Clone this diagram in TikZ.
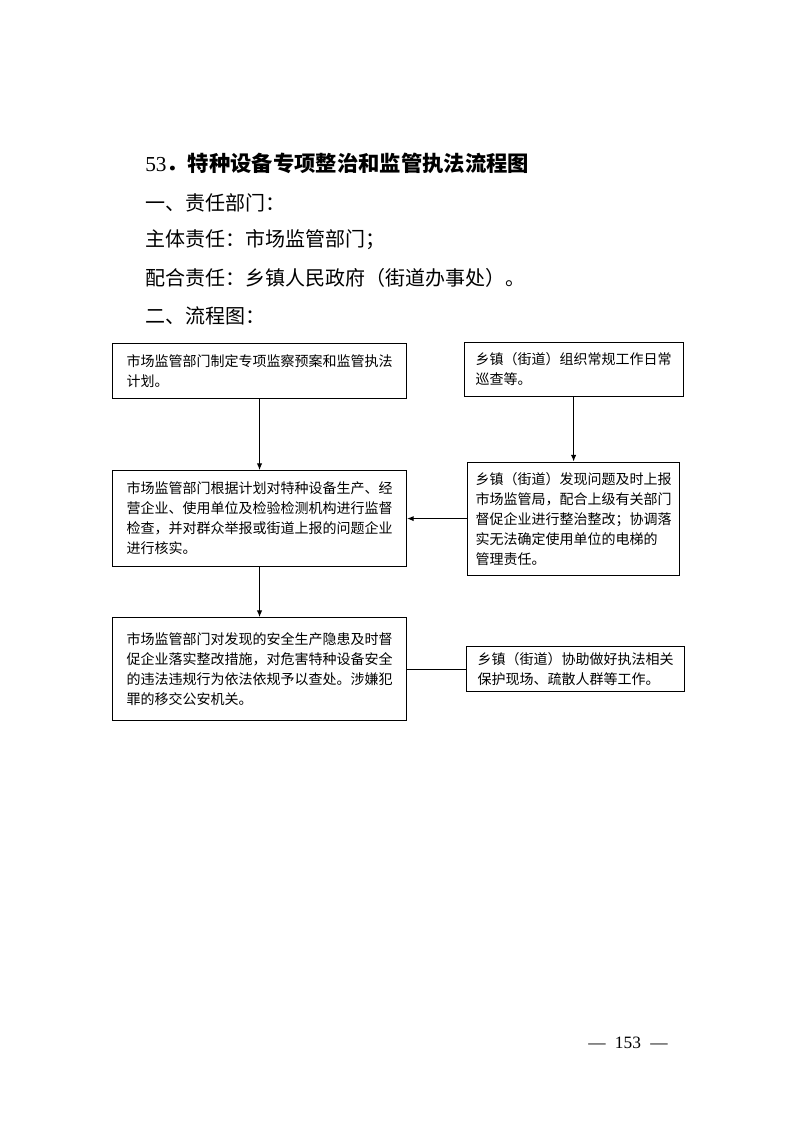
\documentclass[tikz,border=0pt]{standalone}
\usepackage{fontspec}
\setmainfont{Liberation Serif}
\newfontfamily\cjk{Noto Sans CJK SC}
\usepackage{tikz}
\usetikzlibrary{arrows.meta,positioning}

\begin{document}
\begin{tikzpicture}[
  x=0.75pt, y=-0.75pt,
  node distance=45pt,
  box/.style={draw=black, line width=0.8pt, inner sep=0pt, align=left, font=\cjk\fontsize{10.5}{15}\selectfont},
  wide/.style={box, minimum width=220.5pt, text width=199.5pt},
  narrow/.style={box, text width=147pt},
  textline/.style={anchor=west, inner sep=0pt, font=\cjk\fontsize{15}{18}\selectfont},
  arrow/.style={-{Latex[length=5pt,width=4pt]}, line width=0.75pt},
  link/.style={line width=0.75pt}
]
  \useasboundingbox (0,0) rectangle (793,1122);

  % heading lines
  \node[textline, font=\cjk\bfseries\fontsize{16}{18}\selectfont] (title) at (145,163) {{\rmfamily\mdseries 53}．特种设备专项整治和监管执法流程图};
  \node[textline] (dept) at (145,203) {一、责任部门：};
  \node[textline] (lead) at (145,240) {主体责任：市场监管部门；};
  \node[textline] (assist) at (145,278) {配合责任：乡镇人民政府（街道办事处）。};
  \node[textline] (chart) at (145,316) {二、流程图：};

  % flow boxes
  \node[wide, minimum height=41.25pt, anchor=north west] (plan) at (112,343) {市场监管部门制定专项监察预案和监管执法\\计划。};
  \node[wide, minimum height=72pt, below=53.25pt of plan] (check) {市场监管部门根据计划对特种设备生产、经\\营企业、使用单位及检验检测机构进行监督\\检查，并对群众举报或街道上报的问题企业\\进行核实。};
  \node[wide, minimum height=77.25pt, below=37.5pt of check] (handle) {市场监管部门对发现的安全生产隐患及时督\\促企业落实整改措施，对危害特种设备安全\\的违法违规行为依法依规予以查处。涉嫌犯\\罪的移交公安机关。};
  \node[narrow, minimum width=159pt, minimum height=84.75pt, right=45pt of check] (report) {乡镇（街道）发现问题及时上报\\市场监管局，配合上级有关部门\\督促企业进行整治整改；协调落\\实无法确定使用单位的电梯的\\管理责任。};
  \node[narrow, minimum width=164.25pt, minimum height=40.5pt, above=48.4pt of report] (patrol) {乡镇（街道）组织常规工作日常\\巡查等。};
  \node[narrow, minimum width=163.5pt, minimum height=33.75pt, right=44.25pt of handle] (help) {乡镇（街道）协助做好执法相关\\保护现场、疏散人群等工作。};

  \draw[arrow] (plan) -- (check);
  \draw[arrow] (patrol) -- (report);
  \draw[arrow] (report) -- (check);
  \draw[arrow] (check) -- (handle);
  \draw[link] (handle) -- (help);

  % page number
  \node[font=\rmfamily\fontsize{13}{15}\selectfont] (page) at (628,1043) {—\hspace{7pt}153\hspace{7pt}—};
\end{tikzpicture}
\end{document}
